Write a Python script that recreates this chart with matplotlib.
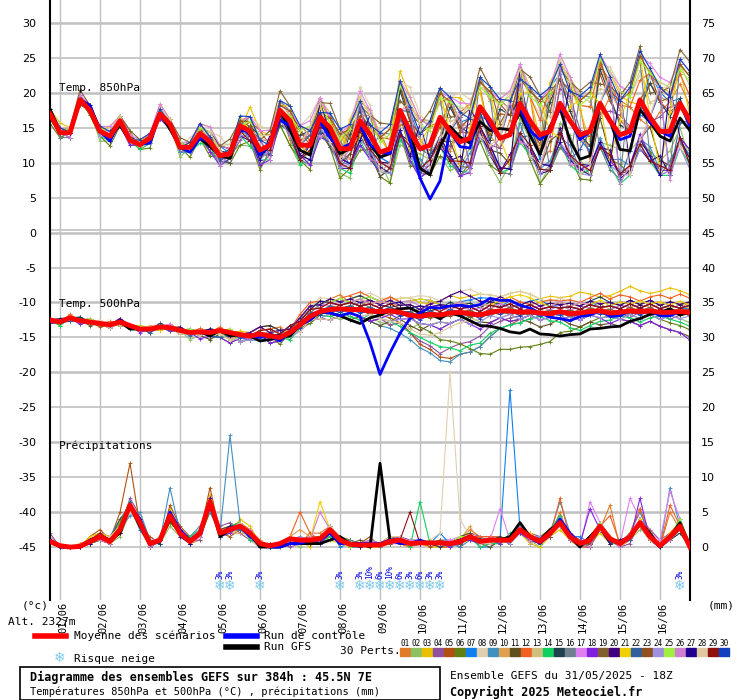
import matplotlib
matplotlib.use("Agg")
import matplotlib.pyplot as plt
from matplotlib.patches import Rectangle
import numpy as np

# ---------------- data (6-hourly, 31/05 18Z -> 16/06 18Z) ----------------
DATES = ["01/06","02/06","03/06","04/06","05/06","06/06","07/06","08/06",
         "09/06","10/06","11/06","12/06","13/06","14/06","15/06","16/06"]

MEAN_850 = [17,14.3,14.3,19,17.5,14.5,13.8,16,13.2,12.6,13.5,17,15.5,12.2,12.2,14.2,13,11,11.3,15.3,
            14.5,11.8,12.5,17.5,16,12.5,12.5,16.5,15,12,12,16,14,11.5,12,17.5,14.5,12,12.5,16.5,
            14.5,13,13.5,18,16,13.5,14,18.5,16,14,14.5,18.5,16,14,14.5,18.5,16,14,14.5,19,
            16.5,14.5,14.5,18.5,16]
MEAN_500 = [-12.5,-12.8,-12.2,-12.6,-12.8,-13,-13.2,-12.8,-13.3,-13.8,
            -13.8,-13.5,-13.6,-14,-14.3,-14.2,-14.3,-14,-14.3,-14.6,
            -14.8,-14.5,-14.8,-15,-14.3,-13.2,-12,-11.3,-11,-10.9,
            -11,-11,-11.2,-11.3,-11.2,-11.4,-11.8,-12,-11.7,-11.8,
            -11.5,-11.4,-11.6,-11.8,-11.4,-11.2,-11.2,-11.4,-11.3,-11.5,
            -11.6,-11.3,-11.6,-11.5,-11.3,-11.2,-11.5,-11.4,-11.2,-11.3,
            -11.2,-11.4,-11.4,-11.3,-11.4]
MEAN_PRECIP = [0.8,0.2,0,0.1,0.8,1.5,0.8,2.5,6,3.5,0.5,1,4.5,2,0.8,2,6.5,2,2.5,3,
               2,0.5,0.2,0.5,1.2,1,1,1.2,2.5,1,0.4,0.3,0.3,0.3,0.8,1,0.5,0.6,0.6,0.6,
               0.5,0.8,1.5,0.8,1,1,1,2.5,1.5,0.8,2,3.5,1.5,0.5,1,3,1.2,0.5,1.5,3.5,
               1.5,0.2,1.5,3,0]

# member deviations from the mean: letter code, 'a' = 0
T850_DEV = [
 "aabaZ ZabcZ bZaab acbZY bdcaW XbdcZ YbeeZ XcgeZ WcfeX YdgfV WehgU XfhfW Yeged",
 "ZaZaa YZaZa aZaYa ZYZaW XZYXV WZaZV UXZYT TWZXS SVYWR RUXWQ TWXVR SVXWS TUWVS",
 "bcbab acbba bcbab cdcbZ fecaY edcbZ gfedZ ihgeY hjgdX ijhfZ kihfY jkigZ kjihb",
 "aZaab aaZaa ZaaZa aYaZX aZbYZ YaaZW ZacZX YbcYW XcdZV YbeaW ZdfbV YcebX ZdfaY",
 "bbaab abaab aabaa bacbZ ceaaa dbaZY ecbaZ fdaZY gcbYX fecZY hfcaZ gedaa hgeab",
 "YZaaZ ZYZaZ YaZaY ZXaYW YWZXV XVYWU WUXVT VTWUS UTVTR TSUSQ SRTRQ SSURR TRUSS",
 "aabab aabba baabb cbcaa dcbZZ ecbZY fdcZX gecYW heeZW ifdYV jgeZW ihfaX jigbY",
 "aaaab Zaaab aabac bcebb dfdcb egecc fhgdc gjhed hkieg gjhfe hkjgf ilkhf ijjgf",
 "ZaaZa aZaZa ZaaZZ aZaYZ ZYaXY YXaWX XWZVW WVYUV VUXUU UTWUT UTVTS TSVTS USUST",
 "abaab aabaa babaa cbbaZ dcbaZ ecbZY fdcYX gdcYW hecYW ifdZX hfeZX igfaY hhgZZ",
 "aaaZa aaZaa aZaaZ aaZYZ bZYXY aYXWX ZXWVW ZWVUV YVUUU XUTTT YUTTT XTSSS YUTTU",
 "babaa babaa babab cbcbb dcdcb edecb fefdc gfgfd hghge ihifd jijgf iigfe jjhgf",
 "aaabb aabbb aabbb bbccb bcdcb bdedb bdfec cegfd cfhge cgihf dhjig dgjhg dhkih",
 "Zaaaa ZZaaZ ZaZaZ YZYZY XYXYX WXWXW VWVWV UVUVU TUTUT TTSTT SSRSS RRQRR RRRRR",
 "abbba abbba abbba bccbZ bdcaY cdbZX dcaYW ecaYV fdbZW gebZW gfcaX hfcaY hgdbZ",
 "aZZaa aZZaa aZaaa ZYZbb YXYcc XWXdc WVWed VUVfe UTUgf TSThg SRSih RQRji SRSij",
 "bbbbb bcbbb bcbbb cdcbb dedbc efecd fgfde ghgef hihfg ijigh jkjhi kkkij llkjk",
 "aaZaa aaZZa aZZaa aYYZa ZXXYZ YWWXY XVVWX WUUVW VTTUV UTTUU TSSTT SSSTT SSSTU",
 "aabcb aabcb aabcb abcdb bcded bcdfe cdegf cefhg dfgih dghji ehijk ehikl fijlm",
 "Zaaaa aZaaa aaZaa ZaZaY YaYZX XaXYW WZWXV VYVWU UXUVT TWTUS SVSTR RURSQ RVRTR",
 "aaaab aaaab aaaab aaabc aZabd aYacd aXbde aWbef aVcfg aUcgh aTdhi aSdij aSeij",
 "abaaa abaaa abaaa abZaa acYaa acXZa adWZa aeVYa afUYa agTXa ahSXa aiRWa aiRWa",
 "aaaaa aaaaa aaaaa baaab caabc dabcd ebcde fcdef gdefg hefgh ifghi jghij jghij",
 "aaaaa Zaaaa ZaaaZ ZZaZY ZYZYX YXYXW XWXWV WVWVU VUVUT UTUTS TSTSR SRSRQ SRSRQ",
 "aabaa babaa ababa bcbaa cdcab dedbc efecd fgfde ghgef hihfg ijigh jkjhi jkjhi",
 "aaZaa aaZaa aaZaa abYaZ acXaY adWZX aeVYW afUXV agTWU ahSVT aiRUS ajQTR ajQTR",
 "aaaaa aaaaa aaaaa aZbaa ZYcaZ YXdZY XWeYX WVfXW VUgWV UThVU TSiUT SRjTS SRjTS",
 "abbaa abbaa abbaa acbZa adcYZ aedXY afeWX agfVW ahgUV aihTU ajiST akjRS akjRS",
 "aaaaa aaaaa aaaaa ZaaaZ YaZaY XZYZX WYXYW VXWXV UWVWU TVUVT SUTUS RTSTR RTSTR",
 "bbaab bbaab bbaab cbabc dcacd edbde fecef gfdfg hgegh ihfhi jigij kjhjk kjhjk",
]
CTRL_850_DEV = "aaaab aZaaa ZaaaZ ZaaaZ aZaYZ aaZYa bZYaZ aYUPN aZYaZ aaZYZ aZaZa aaZZa ZaZaZ"
GFS_850_DEV  = "baaab aaZaa aaZaa ZZaZa aZaaY ZYaZZ aZYZZ aaWUU bbZXY cbYXW bZWVV aaXWY ZZYXY"

T500_DEV = [
 "aaaab aZaab aaZaa aZaYb ZbcdZ abcde cbdce dcbed cdbcd bcdcb cdcbc bcdcb cdcbd",
 "ZaaZa aZaZa aZaaY ZYaZa aYZaY ZYZYX YXYXW XWYXW XYZYX YZYZY ZYZYZ YZYZY ZYZYX",
 "abaab aabab aaaba abaab bcbab cdcbc dedcd efede fefgf efgfe fefgf efghg fghgf",
 "aaZaa aaaZa aZaaa aZaYa aZbaZ aZaZY ZYXYW XVTRP QRSUW XYZaZ aZaYZ aZaYa ZaYZa",
 "aaaaa Zaaaa aZaaa ZaaaZ aZaab bcbab cbaZY XVSQO NOPRT VWYZa aZaba baZab aZaba",
 "aZaab aaZaa aaaZa aZYXZ aZaYa ZYZaa baZYX ZaXVT SRQPO PPQQR SUVWX YZYXY ZYXWV",
 "aaaba aabaa aabaa abaZY ZabcZ bcdcb cdedc defed cdefe bdcde ccdcd bcdcb cbcbb",
 "abaaa baaab aaaaa abaZa bcdcb cdedc defed efgfe fghgf efgfe dedcd cdcbc bcbcb",
 "aaaaa aaaZa ZaaZa aZYaZ ZYaZa aZYZY ZYXWV UTRPN MOPRT VWXYZ aZYZa aZaZa ZYZaZ",
 "aaaab aabaa baaaa aZabZ abcba bcbcb cdcdc cdcbc bcbcb cdcbc bcbcb cbcbc bcbcb",
 "ZaaaZ aaZaa ZaaZa ZYZaY ZaYZa YZYXY XYXWX YXWXY XYXYX YXYXW XYXWX WXWXW XWVUT",
 "aabaa abaab aabaa babZa bcdcb dedcd efede dcdcb cdcbc dedcd edede fefed efefe",
 "aaaaa aaZaa aaaZa aZaZY ZabaZ abcdc bcbcb abcbc bcdcb cbcbc dcdcb cdcdc dcdcd",
 "aZaaa aaaZa aaZaa aZYaZ aZbaY ZaZYZ YXZYX WVUSR QPRSU VWXYZ YXWVW XYZYX YZYXW",
 "aaaba aabaa abaab abaZa bcdcb cdcdc dedcb cdcbc dcdcd cbcbc dcdcd edcdc dcdcd",
 "aaaaa aaaaa aaaaa ZaZYZ aZbcb cbcba bcbab abcba babab ababa babab abcba babab",
 "aaaab aabaa aabaa aaZaa bcbcb cdcbc dcdcd cdcdc bcbcb cbcbc bcbcb abcba babab",
 "ZaaZa aZaaZ aaZaa YZYXZ ZaYZa YZYXY ZYXYZ YZYXW XYXWX YXYZY ZYZYZ YXYXW XWVUS",
 "aaaaa aaaaa aaaaa aaZaa aZaba ababa babab ababa babab abcba babab ababa babab",
 "abaaa aabaa aaaba abaZa bcbcb cdcdc dcdcd cdcde fgfed edcdc dcdcd cdcdc dcdcd",
 "aaaaa aaaaa aZaaa aaZYa abcba bcdcb cdcdc defed cdcdc defed cdcdc dcdcd cdcdc",
 "aaZaa aaaaa ZaaaZ aZYZa aZaba ababa babab ababa baZaZ aZaZa ZaZaZ aZaZa ZaZaZ",
 "aaaaa aaaaa aaaaa aZaaZ aZaaa aZaZa ZaZaZ aZaZa ZaZaZ aZaZa ZaZaZ aZaZa ZaZaZ",
 "aaaaa aaaZa aaaaa aZaZY ZaZaZ YZYZY ZYZYX YZYXY XYXYZ YZYZY ZYZYZ YZYZY ZYZYZ",
 "aaaab aaaab aaaab aaabZ abcbc bcdcd cdedc dcdcd cdcdc bcbcb cbcbc bcbcb cbcbc",
 "aaaaa aaaaa aaaaa aaaaa abcba bcbcb cdcdc dedcd cdcdc bcbcb cdcdc bcbcb cbcbc",
 "aaaaa aaaaa aaaaa aZaZa aZabc bcdcb cbcbc dcdcd cbcbc bcbcb cbcbc bcbcb cbcbc",
 "aaaaa aZaaa aaaZa ZaZYZ aZaZa YZYXY ZYZYX XWVUV WXYZa ZaZaZ aZaZa ZaZaZ aZaZa",
 "aaaaa aaaaa aaaaa aaaaa abcbc bcbcb cbcbc bcbcb cbcbc bcbcb cbcbc bcbcb cbcbc",
 "aaaaa aaaaa aaaaa aZaaZ aaaaa ZaZaZ aZaZa ZaZaZ aZaZa ZaZaZ aZaZa ZaZaZ aZaZa",
]
CTRL_500_DEV = "aaaaa aaaaa aaaaa aaaaa aZaZa aZaZY ZYRIO UZbcc cccde ddcba ZYYZZ aZZaa aZZaa"
GFS_500_DEV  = "aaaaa aaaZa aaaaa aZaZa aYZaZ aZaZY XWYZa bcbaZ aZYXW VUUVU UTUUV VWWXY ZabZa"

# precipitation codes: index in PCODE, steps of 0.5 mm
PRECIP_CODES = [
 "30003 426b5 03a51 2c367 52003 14462 00213 30210 02533 12441 3a203 5c04b 20a50",
 "10001 213a8 21631 5e345 30012 03141 21102 11210 13411 31620 58201 73125 40470",
 "20012 437d6 02b41 3f548 61001 20321 10001 20100 01211 13410 35221 41236 21251",
 "40002 215e9 12842 2b674 20110 11252 00211 32212 20433 21543 49300 63018 52470",
 "20003 52ao6 31c63 4h435 30101 23341 11303 10201 12321 21612 37420 52146 20360",
 "10002 316b7 02742 3a566 50012 11243 21012 20112 13211 23423 56212 71227 30380",
 "20002 438c5 11952 3e347 41003 22150 11103 11114 12300 2J522 47331 62047 40260",
 "30001 214a9 02a33 5c445 20102 32253 10212 10124 O8311 13541 38212 52136 20350",
 "20002 3259a 22h43 6a4w7 21011 12332 00103 21111 10212 21631 4d402 6114a 30h61",
 "10012 425d6 02842 3d344 41013 53241 11102 20211 12612 12422 36213 73027 30470",
 "20001 328b8 12a41 4c567 40011 22163 12113 21111 13410 22531 48313 51236 20350",
 "30002 215c6 02952 3e455 50103 a4231 11211 10210 02333 32522 3e200 6914b 40c60",
 "20001 426b7 13841 4c346 41002 12251 01102 31121 11322 12612 46312 63127 31360",
 "10002 317d6 02a43 5d467 21012 22133 10111 20d12 11301 14531 59302 51137 20381",
 "20002 324c8 11942 3c455 40102 21262 11112 11110 12322 32532 47210 62237 30240",
 "20001 225b6 02842 4d355 31012 32251 21103 21211 01312 21421 46312 72136 40370",
 "30002 436c7 22941 3e456 51002 13252 11211 12111 23322 b2632 5840d 731e8 42g80",
 "20002 224b6 02842 3c346 40011 22141 11112 31111 02212 13421 3731b 5212e 20250",
 "10001 214c7 13a42 4d457 30011 21252 11113 21112 12312 21533 47312 62137 30360",
 "20002 325c6 02931 4e466 41012 22253 01112 21111 11322 23532 47311 51236 20361",
 "20003 436b7 12842 3c456 41003 12d52 11112 11111 13322 22542 58312 63138 31470",
 "30002 325d7 12942 4d355 41011 22252 11112 21111 12311 22531 46312 62127 30360",
 "20001 324b6 02852 3c456 41012 21251 10111 21111 11322 22532 37311 52136 20250",
 "20002 326c7 12942 5d457 41012 32253 11212 21211 12322 21633 48312 62147 30370",
 "10002 325b7 13942 4c456 31012 22252 01112 21111 13322 22531 47313 73137 40380",
 "20002 215c6 02a42 3d456 41012 22a52 11112 21111 12322 22522 47210 62037 30260",
 "20001 325c7 12941 4d456 41012 22252 10112 21111 12322 22532 47312 62137 30360",
 "30002 335c7 13942 4d457 41012 22263 11113 31111 12311 22532 46312 52136 20360",
 "20002 424c7 12842 4c456 41012 22252 11112 2a111 12322 22532 47312 62137 30350",
 "20002 325c7 12942 4d456 41012 22252 11112 21111 12322 22532 47312 62137 30360",
]
CTRL_PRECIP = "20002 325c8 12a52 4c456 31001 12241 11112 11211 12322 22531 48412 62137 30360"
GFS_PRECIP  = "20002 324c6 12842 4d356 40001 11123 110o2 21111 12322 23732 57303 62137 40370"

PERT_COLORS = ["#e07b2a","#8cc060","#e8c000","#9050a0","#b05010","#608010","#1080f0","#e0d0b0",
               "#4090c0","#e0a050","#605020","#f06020","#d0c080","#10d060","#204050","#708090",
               "#e080f0","#8020e0","#806030","#400080","#f0d000","#3060a0","#905020","#a090e0",
               "#a0f040","#d080d0","#200090","#e0c8a0","#901010","#1040c0"]

SNOW_DAYS = [4.0,4.25,5.0,7.0,7.5,7.75,8.0,8.25,8.5,8.75,9.0,9.25,9.5,15.5]
SNOW_PCT  = ["3%","3%","3%","3%","3%","10%","6%","10%","6%","3%","6%","3%","3%","3%"]

TCODE = "ABCDEFGHIJKLMNOPQRSTUVWXYZabcdefghijklmnopqrstuvwxyz"
PCODE = "0123456789abcdefghijklmnopqrstuvwxyzABCDEFGHIJKLMNOPQRSTUVWXYZ"
N = len(MEAN_850)

def norm(s):
    s = s.replace(" ", "")
    return (s + s[-1] * N)[:N]

def tdev(s, unit=0.5):
    return np.array([(TCODE.index(c) - 26) * unit for c in norm(s)])

def prec(s):
    return np.array([PCODE.index(c) * 0.5 for c in norm(s)])

t = -0.25 + 0.25 * np.arange(N)  # days from 01/06 00Z
PBASE = -45  # precip zero on left scale

W, H = 740, 700
fig = plt.figure(figsize=(W / 100, H / 100), dpi=100)
ax = fig.add_axes([50 / W, 1 - 600 / H, 640 / W, 600 / H])
ax.set_xlim(-0.25, 15.75)
ax.set_ylim(-45 - 53 / 7, 30 + 23 / 7)
for s in ["top", "bottom"]:
    ax.spines[s].set_visible(False)
ax.spines["left"].set_linewidth(1.5)
ax.spines["right"].set_linewidth(1.5)

for d in range(16):
    ax.axvline(d, color="#c0c0c0", lw=1, zorder=0)
for v in range(-45, 31, 5):
    lw = 1.8 if v % 10 == 0 else 1.2
    ax.axhline(v, color="#c0c0c0", lw=lw, zorder=0)
ax.axhline(0.35, color="#c0c0c0", lw=1.2, zorder=0)

mean850 = np.array(MEAN_850); mean500 = np.array(MEAN_500)
mk = dict(marker="+", markersize=3, markeredgewidth=0.6)
for k in range(30):
    c = PERT_COLORS[k]
    ax.plot(t, mean850 + tdev(T850_DEV[k], 0.7), color=c, lw=0.8, zorder=2, **mk)
    ax.plot(t, mean500 + tdev(T500_DEV[k]), color=c, lw=0.8, zorder=2, **mk)
    ax.plot(t, PBASE + prec(PRECIP_CODES[k]), color=c, lw=0.8, zorder=2, **mk)

ax.plot(t, mean850 + tdev(GFS_850_DEV, 0.7), color="black", lw=2, zorder=3)
ax.plot(t, mean500 + tdev(GFS_500_DEV), color="black", lw=2, zorder=3)
ax.plot(t, PBASE + prec(GFS_PRECIP), color="black", lw=2, zorder=3)
ax.plot(t, mean850 + tdev(CTRL_850_DEV, 0.7), color="#0000ff", lw=2, zorder=4)
ax.plot(t, mean500 + tdev(CTRL_500_DEV), color="#0000ff", lw=2, zorder=4)
ax.plot(t, PBASE + prec(CTRL_PRECIP), color="#0000ff", lw=2, zorder=4)
ax.plot(t, mean850, color="#ff0000", lw=3.5, zorder=5)
ax.plot(t, mean500, color="#ff0000", lw=3.5, zorder=5)
ax.plot(t, PBASE + np.array(MEAN_PRECIP), color="#ff0000", lw=3.5, zorder=5)

mono = "DejaVu Sans Mono"
ax.text(-0.02, 20.3, "Temp. 850hPa", fontsize=8, family=mono)
ax.text(-0.02, -10.6, "Temp. 500hPa", fontsize=8, family=mono)
ax.text(-0.02, -31.0, "Précipitations", fontsize=8, family=mono)

ax.set_yticks(range(-45, 31, 5))
ax.set_yticklabels([str(v) for v in range(-45, 31, 5)], fontsize=8)
ax.set_xticks([])
ax.tick_params(axis="y", length=0, pad=10)
ax2 = ax.twinx()
ax2.set_ylim(ax.get_ylim())
ax2.set_yticks(range(-45, 31, 5))
ax2.set_yticklabels([str(v + 45) for v in range(-45, 31, 5)], fontsize=8)
ax2.tick_params(axis="y", length=0, pad=8)
for s in ax2.spines.values():
    s.set_visible(False)

for d, lab in zip(range(16), DATES):
    ax.text(d + 0.08, -45 - 55 / 7, lab, rotation=90, ha="center", va="top",
            fontsize=7.5, family=mono)

for d, p in zip(SNOW_DAYS, SNOW_PCT):
    ax.text(d, -50.6, "❄", fontsize=10, color="#7ec8ec", ha="center", va="center", zorder=6)
    ax.text(d, -49.5, p, fontsize=5.5, color="#0000e0", rotation=90, ha="center",
            va="bottom", family=mono, zorder=6)

def ft(x, y, s, **kw):
    fig.text(x / W, 1 - y / H, s, va="center", **kw)

ft(22, 606, "(°c)", fontsize=8, family=mono)
ft(708, 606, "(mm)", fontsize=8, family=mono)
ft(8, 622, "Alt. 2327m", fontsize=8, family=mono)
fig.add_artist(plt.Line2D([35 / W, 66 / W], [1 - 636 / H] * 2, color="#ff0000", lw=4))
ft(74, 636, "Moyenne des scénarios", fontsize=8, family=mono)
fig.add_artist(plt.Line2D([226 / W, 257 / W], [1 - 636 / H] * 2, color="#0000ff", lw=4))
ft(264, 636, "Run de contrôle", fontsize=8, family=mono)
fig.add_artist(plt.Line2D([226 / W, 257 / W], [1 - 647 / H] * 2, color="black", lw=4))
ft(264, 647, "Run GFS", fontsize=8, family=mono)
ft(60, 658, "❄", fontsize=10, color="#7ec8ec", ha="center")
ft(74, 659, "Risque neige", fontsize=8, family=mono)
ft(340, 651, "30 Perts.", fontsize=8, family=mono)
for k in range(30):
    x0 = 400 + k * 11
    ft(x0 + 5, 643, "%02d" % (k + 1), fontsize=5.5, family=mono, ha="center")
    fig.add_artist(Rectangle((x0 / W, 1 - 656 / H), 10 / W, 8 / H, color=PERT_COLORS[k]))

fig.add_artist(Rectangle((20 / W, 1 - 700 / H), 420 / W, 33 / H, fill=False, ec="black", lw=1.2))
ft(30, 677, "Diagramme des ensembles GEFS sur 384h : 45.5N 7E", fontsize=8.5,
   family=mono, weight="bold")
ft(30, 692, "Températures 850hPa et 500hPa (°C) , précipitations (mm)", fontsize=7.5, family=mono)
ft(450, 676, "Ensemble GEFS du 31/05/2025 - 18Z", fontsize=8, family=mono)
ft(450, 692, "Copyright 2025 Meteociel.fr", fontsize=8.5, family=mono, weight="bold")

fig.savefig("out.png", dpi=100, facecolor="white")
